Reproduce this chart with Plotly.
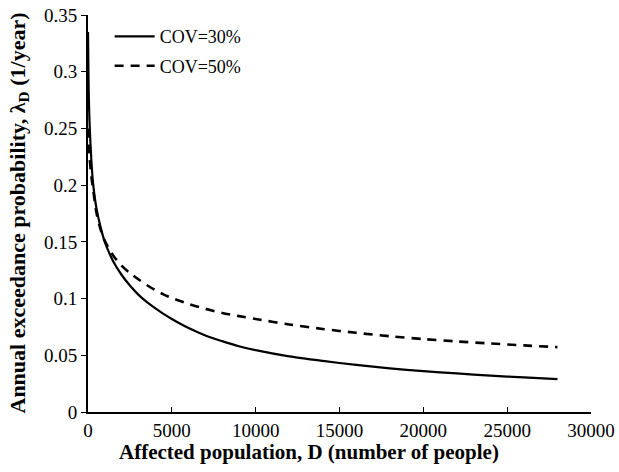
import plotly.graph_objects as go

# Affected population D (number of people)
d_values = [0, 25, 50, 100, 200, 300, 500, 750, 1000, 1500, 2000, 2500, 3000, 3500,
            4000, 4500, 5000, 6000, 7000, 8000, 9000, 10000, 12000, 14000, 16000,
            18000, 20000, 22000, 24000, 26000, 28000]

# Annual exceedance probability, COV = 30%
cov30 = [0.335, 0.300, 0.277, 0.252, 0.222, 0.202, 0.180, 0.163, 0.150, 0.133, 0.121,
         0.1115, 0.1035, 0.097, 0.0915, 0.0865, 0.082, 0.074, 0.0675, 0.0625, 0.058, 0.0545,
         0.049, 0.045, 0.0415, 0.0385, 0.036, 0.034, 0.032, 0.0305, 0.029]

# Annual exceedance probability, COV = 50%
cov50 = [0.250, 0.240, 0.233, 0.223, 0.208, 0.197, 0.176, 0.161, 0.151, 0.138, 0.129,
         0.1225, 0.117, 0.112, 0.1075, 0.1037, 0.1005, 0.0953, 0.091, 0.0873, 0.0845, 0.082,
         0.0772, 0.0732, 0.0698, 0.0668, 0.0643, 0.0622, 0.0604, 0.0587, 0.0572]

series_names = ["COV=30%", "COV=50%"]

x_ticks = [0, 5000, 10000, 15000, 20000, 25000, 30000]
y_ticks = [0, 0.05, 0.1, 0.15, 0.2, 0.25, 0.3, 0.35]
y_tick_labels = ["0", "0.05", "0.1", "0.15", "0.2", "0.25", "0.3", "0.35"]

x_title = "<b>Affected population, D (number of people)</b>"
y_title = "<b>Annual exceedance probability, λ<sub>D</sub> (1/year)</b>"

font_family = "Liberation Serif, Times New Roman, serif"

fig = go.Figure()
fig.add_trace(go.Scatter(x=d_values, y=cov30, mode="lines", name=series_names[0],
                         legendgroup="a",
                         line=dict(color="black", width=2.2, shape="spline", smoothing=0.8)))
fig.add_trace(go.Scatter(x=d_values, y=cov50, mode="lines", name=series_names[1],
                         legendgroup="b",
                         line=dict(color="black", width=2.6, dash="9px,7px", shape="spline", smoothing=0.8)))

fig.update_layout(
    width=619, height=472,
    margin=dict(l=88, r=28, t=15, b=60),
    paper_bgcolor="white", plot_bgcolor="white",
    font=dict(family=font_family, size=18, color="black"),
    showlegend=True,
    legend=dict(x=0.043, y=0.992, xanchor="left", yanchor="top",
                bgcolor="rgba(0,0,0,0)", font=dict(size=18, family=font_family),
                tracegroupgap=3, itemwidth=40),
    xaxis=dict(
        range=[0, 30000], tickvals=x_ticks, ticktext=[str(v) for v in x_ticks],
        showgrid=False, zeroline=False, showline=True, linecolor="black", linewidth=2,
        ticks="inside", ticklen=5, tickwidth=1, tickcolor="black",
        tickfont=dict(size=19, family=font_family), automargin=False,
    ),
    yaxis=dict(
        range=[0, 0.35], tickvals=y_ticks, ticktext=y_tick_labels,
        showgrid=False, zeroline=False, showline=True, linecolor="black", linewidth=2,
        ticks="outside", ticklen=5, tickwidth=1, tickcolor="black",
        tickfont=dict(size=19, family=font_family), automargin=False,
    ),
    annotations=[
        dict(text=x_title, xref="paper", yref="paper", x=(309 - 88) / 503, y=-(451 - 411.5) / 396.5,
             xanchor="center", yanchor="middle", showarrow=False,
             font=dict(size=21, family=font_family)),
        dict(text=y_title, xref="paper", yref="paper", x=-(88 - 18) / 503, y=0.5,
             xanchor="center", yanchor="middle", showarrow=False, textangle=-90,
             font=dict(size=22, family=font_family)),
    ],
)

fig.write_html("out.html")
